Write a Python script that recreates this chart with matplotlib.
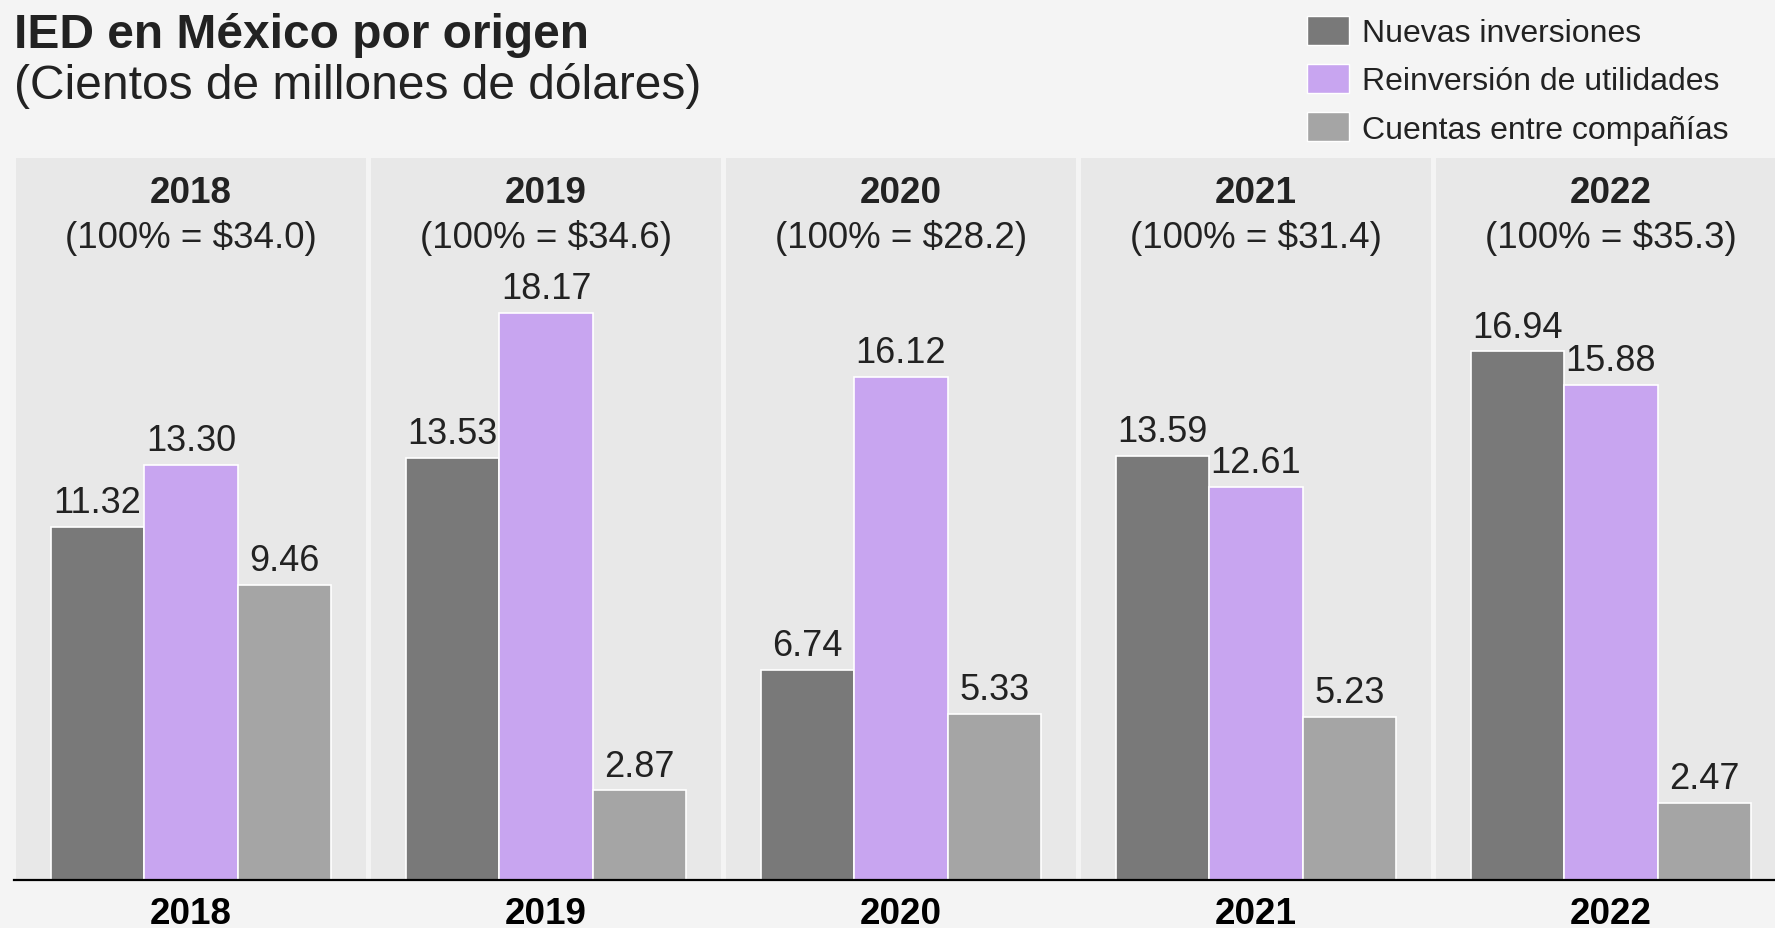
import matplotlib
matplotlib.use('Agg')
import matplotlib.pyplot as plt
from matplotlib.patches import Patch
from matplotlib.lines import Line2D

plt.rcParams['font.family'] = ['Liberation Sans', 'DejaVu Sans']

years = ['2018', '2019', '2020', '2021', '2022']
totals = [34.0, 34.6, 28.2, 31.4, 35.3]
nuevas = [11.32, 13.53, 6.74, 13.59, 16.94]
reinversion = [13.30, 18.17, 16.12, 12.61, 15.88]
cuentas = [9.46, 2.87, 5.33, 5.23, 2.47]

series = ['Nuevas inversiones', 'Reinversión de utilidades', 'Cuentas entre compañías']
colors = ['#797979', '#c8a5f0', '#a5a5a5']

W, H = 1775, 929
fig = plt.figure(figsize=(W / 100, H / 100), dpi=100, facecolor='#f4f4f4')
txt = '#222222'

# panel layout in pixels
left0, pitch, pw = 16, 355, 350
top, base = 159, 881

for i, yr in enumerate(years):
    ax = fig.add_axes([(left0 + i * pitch) / W, (H - base) / H, pw / W, (base - top) / H])
    ax.set_facecolor('#e8e8e8')
    vals = [nuevas[i], reinversion[i], cuentas[i]]
    bars = ax.bar([-1, 0, 1], vals, width=1.0, color=colors, edgecolor='white', linewidth=1.2)
    for b, v in zip(bars, vals):
        ax.annotate(f'{v:.2f}', (b.get_x() + b.get_width() / 2, v), xytext=(0, 10.5),
                    textcoords='offset points', ha='center', va='baseline', fontsize=26, color=txt)
    ax.set_xlim(-1.872, 1.872)
    ax.set_ylim(0, 23.14)
    for s in ax.spines.values():
        s.set_visible(False)
    ax.set_xticks([])
    ax.set_yticks([])
    ax.text(0.5, 0.952, yr, transform=ax.transAxes, ha='center', va='center',
            fontsize=26.5, fontweight='bold', color=txt)
    ax.text(0.5, 0.891, f'(100% = ${totals[i]:.1f})', transform=ax.transAxes, ha='center',
            va='center', fontsize=26.5, color=txt)
    ax.text(0.5, -0.047, yr, transform=ax.transAxes, ha='center', va='center',
            fontsize=26.5, fontweight='bold', color='black')

# baseline
fig.add_artist(Line2D([14 / W, 1], [(H - base) / H] * 2, transform=fig.transFigure,
                      color='black', linewidth=1.6))

fig.text(14 / W, 1 - 48 / H, 'IED en México por origen', ha='left', va='baseline',
         fontsize=34.5, fontweight='bold', color=txt)
fig.text(14 / W, 1 - 99 / H, '(Cientos de millones de dólares)', ha='left', va='baseline',
         fontsize=34.5, color=txt)

handles = [Patch(facecolor=c, edgecolor='white', linewidth=1) for c in colors]
fig.legend(handles, series, loc='upper left', bbox_to_anchor=(1307 / W, 1 - 17 / H),
           frameon=False, fontsize=23, handlelength=1.31, handleheight=1.0,
           handletextpad=0.42, labelspacing=0.5, borderpad=0, borderaxespad=0,
           labelcolor=txt)

fig.savefig('out.png', dpi=100, facecolor=fig.get_facecolor())
